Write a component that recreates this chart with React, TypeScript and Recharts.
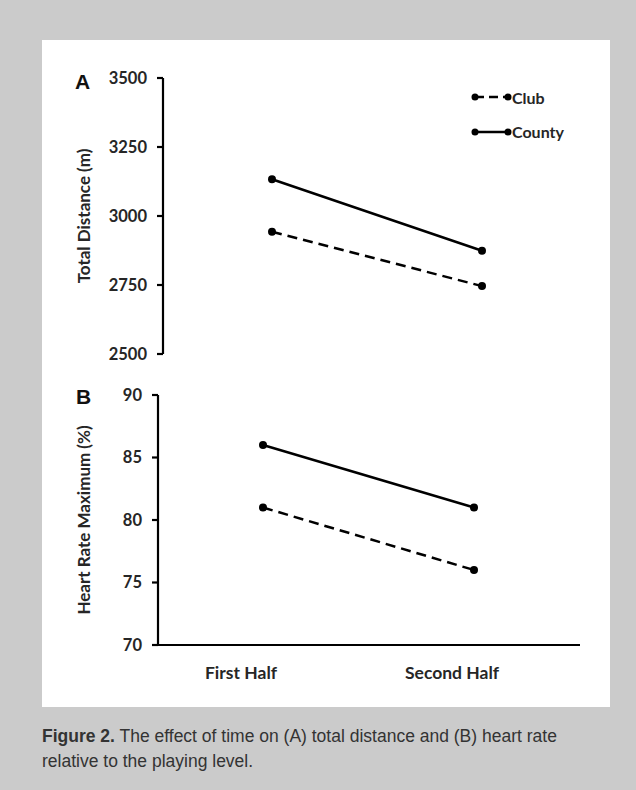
import React from 'react';
import { LineChart, Line, XAxis, YAxis, Legend } from 'recharts';

const categories = ['First Half', 'Second Half'];
const seriesNames = ['Club', 'County'];
const distanceClub = [2943, 2746];
const distanceCounty = [3133, 2874];
const hrClub = [81, 76];
const hrCounty = [86, 81];
const distanceTicks = [2500, 2750, 3000, 3250, 3500];
const hrTicks = [70, 75, 80, 85, 90];

const distanceData = categories.map((c, i) => ({ name: c, Club: distanceClub[i], County: distanceCounty[i] }));
const hrData = categories.map((c, i) => ({ name: c, Club: hrClub[i], County: hrCounty[i] }));

const FONT = 'Lato, "Open Sans", sans-serif';
const TEXT = '#262626';

const tickStyle = { fontFamily: FONT, fontWeight: 700, fontSize: 16.5, fill: TEXT };

const makeYLabel = (text: string, dx: number) => (props: any) => {
  const vb = props.viewBox || {};
  const x = vb.x + vb.width - dx;
  const y = vb.y + vb.height / 2;
  return (
    <text
      x={x}
      y={y}
      textAnchor="middle"
      dominantBaseline="central"
      transform={`rotate(-90, ${x}, ${y})`}
      style={{ fontFamily: FONT, fontWeight: 700, fontSize: 17, fill: TEXT }}
    >
      {text}
    </text>
  );
};

const XTick = (props: any) => {
  const { x, y, payload } = props;
  return (
    <text x={x - 22} y={y} dy={26} textAnchor="middle" style={{ fontFamily: FONT, fontWeight: 700, fontSize: 17.5, fill: TEXT }}>
      {payload.value}
    </text>
  );
};

const LegendContent = (props: any) => {
  const items = props.payload || [];
  return (
    <div style={{ display: 'flex', flexDirection: 'column' }}>
      {items.map((it: any, i: number) => (
        <div key={i} style={{ display: 'flex', alignItems: 'center', height: 34.5 }}>
          <svg width={41} height={12}>
            <line x1={4} y1={6} x2={37} y2={6} stroke="#000" strokeWidth={2.5} strokeDasharray={it.payload && it.payload.strokeDasharray ? '9 5' : undefined} />
            <circle cx={4} cy={6} r={3.5} fill="#000" />
            <circle cx={37} cy={6} r={3.5} fill="#000" />
          </svg>
          <span style={{ fontFamily: FONT, fontWeight: 700, fontSize: 16, color: TEXT }}>{it.value}</span>
        </div>
      ))}
    </div>
  );
};

const dot = { r: 4, fill: '#000', stroke: '#000', strokeWidth: 0 };

export default function App() {
  return (
    <div style={{ position: 'absolute', left: 0, top: 0, width: 636, height: 790, background: '#cbcbcb', overflow: 'hidden' }}>
      <div style={{ position: 'absolute', left: 42, top: 40, width: 568, height: 667, background: '#ffffff' }} />

      <div style={{ position: 'absolute', left: 0, top: 0 }}>
        <LineChart width={636} height={370} data={distanceData} margin={{ top: 78, left: 123, right: 48, bottom: 16 }}>
          <XAxis dataKey="name" hide padding={{ left: 109, right: 106 }} />
          <YAxis
            width={40}
            domain={[2500, 3500]}
            ticks={distanceTicks}
            interval={0}
            tick={tickStyle}
            tickSize={6}
            tickMargin={10}
            axisLine={{ stroke: '#000', strokeWidth: 2.2 }}
            tickLine={{ stroke: '#000', strokeWidth: 2.2 }}
            label={{ content: makeYLabel('Total Distance (m)', 80) }}
          />
          <Legend
            layout="horizontal"
            verticalAlign="middle"
            align="center"
            content={<LegendContent />}
            wrapperStyle={{ position: 'absolute', top: 80, left: 471, width: 120 }}
          />
          <Line dataKey={seriesNames[0]} name={seriesNames[0]} stroke="#000" strokeWidth={2.5} strokeDasharray="10 6" dot={dot} activeDot={false} isAnimationActive={false} />
          <Line dataKey={seriesNames[1]} name={seriesNames[1]} stroke="#000" strokeWidth={2.5} dot={dot} activeDot={false} isAnimationActive={false} />
        </LineChart>
      </div>

      <div style={{ position: 'absolute', left: 0, top: 370 }}>
        <LineChart width={636} height={320} data={hrData} margin={{ top: 25, left: 118, right: 56, bottom: 5 }}>
          <XAxis
            dataKey="name"
            height={40}
            padding={{ left: 105, right: 106 }}
            tick={<XTick />}
            tickLine={false}
            axisLine={{ stroke: '#000', strokeWidth: 2.2 }}
          />
          <YAxis
            width={40}
            domain={[70, 90]}
            ticks={hrTicks}
            interval={0}
            tick={tickStyle}
            tickSize={6}
            tickMargin={10}
            axisLine={{ stroke: '#000', strokeWidth: 2.2 }}
            tickLine={{ stroke: '#000', strokeWidth: 2.2 }}
            label={{ content: makeYLabel('Heart Rate Maximum (%)', 75) }}
          />
          <Line dataKey={seriesNames[0]} name={seriesNames[0]} stroke="#000" strokeWidth={2.5} strokeDasharray="10 6" dot={dot} activeDot={false} isAnimationActive={false} />
          <Line dataKey={seriesNames[1]} name={seriesNames[1]} stroke="#000" strokeWidth={2.5} dot={dot} activeDot={false} isAnimationActive={false} />
        </LineChart>
      </div>

      <div style={{ position: 'absolute', left: 75, top: 70, fontFamily: '"Liberation Sans", Arial, sans-serif', fontWeight: 700, fontSize: 21, color: '#111', lineHeight: '24px' }}>A</div>
      <div style={{ position: 'absolute', left: 76, top: 385, fontFamily: '"Liberation Sans", Arial, sans-serif', fontWeight: 700, fontSize: 21, color: '#111', lineHeight: '24px' }}>B</div>

      <div style={{ position: 'absolute', left: 42, top: 724, width: 580, fontFamily: '"Liberation Sans", Arial, sans-serif', fontSize: 17.5, color: '#333', lineHeight: '25px' }}>
        <b>Figure 2.</b> The effect of time on (A) total distance and (B) heart rate<br />relative to the playing level.
      </div>
    </div>
  );
}
